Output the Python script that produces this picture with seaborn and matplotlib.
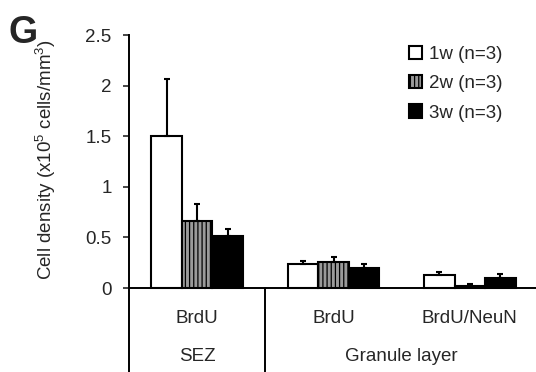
import numpy as np
import pandas as pd
import seaborn as sns
import matplotlib.pyplot as plt

# values (x10^5 cells/mm^3)
regions = ["SEZ BrdU", "GL BrdU", "GL BrdU/NeuN"]
tick_labels = ["BrdU", "BrdU", "BrdU/NeuN"]
group_labels = ["SEZ", "Granule layer"]
weeks = ["1w (n=3)", "2w (n=3)", "3w (n=3)"]
mean_1w = [1.50, 0.233, 0.128]
mean_2w = [0.665, 0.253, 0.022]
mean_3w = [0.515, 0.200, 0.100]
err_1w = [0.57, 0.034, 0.030]
err_2w = [0.165, 0.053, 0.018]
err_3w = [0.065, 0.040, 0.038]

means = [mean_1w, mean_2w, mean_3w]
errs = [err_1w, err_2w, err_3w]

df = pd.DataFrame({
    "region": regions * 3,
    "week": np.repeat(weeks, len(regions)),
    "density": np.concatenate(means),
})

sns.set_theme(style="white")
plt.rcParams["font.family"] = ["Liberation Sans", "DejaVu Sans"]
plt.rcParams["mathtext.fontset"] = "custom"
plt.rcParams["mathtext.rm"] = "Liberation Sans"
plt.rcParams["mathtext.it"] = "Liberation Sans:italic"
plt.rcParams["hatch.linewidth"] = 0.9

FS = 13.5

fig = plt.figure(figsize=(5.36, 3.72), dpi=100)
ax = fig.add_axes([129 / 536, 0.0, 409 / 536, (372 - 35) / 372])

sns.barplot(data=df, x="region", y="density", hue="week",
            palette=["white", "#9a9a9a", "black"], edgecolor="black",
            linewidth=1.5, width=0.67, errorbar=None, ax=ax)
bars = list(ax.containers)

# vertical stripes for 2w
for bar in bars[1]:
    bar.set_hatch("||||")

# one-sided error bars on top of each bar
for cont, err in zip(bars, errs):
    xs = [b.get_x() + b.get_width() / 2 for b in cont]
    ys = [b.get_height() for b in cont]
    ax.errorbar(xs, ys, yerr=[np.zeros(len(err)), err], fmt="none",
                ecolor="black", elinewidth=1.5, capsize=2, capthick=1.5, zorder=1)

ax.set_xlim(-0.5, 2.5)
ax.set_ylim(-0.83, 2.5)
ax.set_yticks([0, 0.5, 1, 1.5, 2, 2.5])
ax.set_yticklabels(["0", "0.5", "1", "1.5", "2", "2.5"])
ax.set_xticks([])
ax.set_xlabel("")
ax.set_ylabel("")
ax.tick_params(axis="y", direction="out", length=4.5, width=1.2,
               pad=8, labelsize=FS, left=True)

for s in ["top", "right", "bottom"]:
    ax.spines[s].set_visible(False)
ax.spines["left"].set_linewidth(1.4)
ax.spines["left"].set_color("black")

ax.axhline(0, color="black", lw=1.4, zorder=3)
ax.plot([0.5, 0.5], [-0.83, 0], color="black", lw=1.4, clip_on=False)

for i, lab in enumerate(tick_labels):
    ax.text(i, -0.30, lab, ha="center", va="center", fontsize=FS)
ax.text(0, -0.68, group_labels[0], ha="center", va="center", fontsize=FS)
ax.text(1.5, -0.68, group_labels[1], ha="center", va="center", fontsize=FS)

fig.text(46 / 536, 1 - 160 / 372, "Cell density (x10$^5$ cells/mm$^3$)",
         rotation=90, ha="center", va="center", fontsize=FS)
fig.text(9 / 536, 1 - 33 / 372, "G", fontsize=27, fontweight="bold",
         ha="left", va="center")

handles = [c.patches[0] for c in bars]
ax.legend(handles, weeks, loc="upper left", bbox_to_anchor=(0.667, 0.99),
          frameon=False, fontsize=FS, handlelength=0.7, handleheight=0.7,
          handletextpad=0.35, labelspacing=0.65, borderaxespad=0)

fig.savefig("out.png", dpi=100)
